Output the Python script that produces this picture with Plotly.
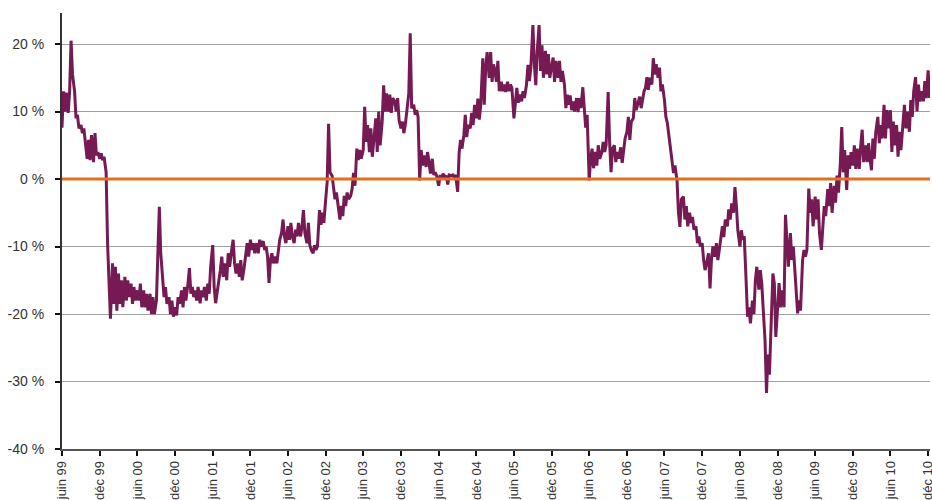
import pandas as pd
import plotly.graph_objects as go

# Weekly readings (days 1, 8, 15, 22 of each month), in %
v1999 = [7.6, 13.0, 10.0, 12.8,   9.8, 13.0, 20.5, 15.5,   13.0, 9.0, 9.5, 7.5,
         8.0, 6.8, 7.5, 5.5,   3.0, 5.8, 2.8, 6.5,   2.5, 6.8, 3.5, 4.0,   3.0, 3.8, 2.8, 3.3]
v2000 = [1.0, -9.5, -15.0, -20.7,   -12.5, -18.5, -13.0, -19.5,   -14.0, -18.5, -15.0, -19.0,
         -14.5, -18.0, -15.0, -17.5,   -15.5, -18.5, -16.0, -18.0,   -16.5, -18.0, -15.5, -19.0,
         -16.5, -19.0, -17.0, -19.5,   -17.0, -20.0, -17.5, -20.0,   -18.0, -9.0, -4.1, -11.0,
         -14.0, -17.5, -16.0, -18.5,   -17.5, -20.0, -18.0, -20.4,   -19.0, -20.2, -17.5, -18.5]
v2001 = [-16.5, -19.0, -16.0, -18.0,   -15.5, -13.2, -17.0, -16.0,   -17.5, -16.5, -18.0, -16.0,
         -18.4, -16.5, -17.5, -16.0,   -18.0, -15.5, -17.0, -13.0,   -9.8, -16.0, -18.4, -17.0,
         -15.0, -13.5, -11.5, -14.5,   -12.5, -15.0, -11.0, -13.0,   -10.5, -9.0, -12.5, -14.0,
         -12.5, -14.5, -12.0, -15.0,   -13.0, -11.0, -9.5, -11.5,   -9.0, -10.5, -9.5, -11.0]
v2002 = [-9.5, -11.0, -9.0, -10.0,   -9.2, -10.5, -10.0, -11.5,   -15.4, -12.0, -11.0, -12.5,
         -11.5, -12.5, -11.0, -9.0,   -8.0, -6.0, -8.5, -9.5,   -7.0, -9.0, -6.5, -8.5,
         -9.5, -7.5, -8.5, -6.5,   -8.5, -7.0, -4.6, -8.0,   -9.5, -6.5, -9.8, -10.5,
         -11.0, -9.8, -10.5, -10.0,   -4.6, -6.8, -5.0, -6.5,   -3.0, -0.5, 8.2, 1.0]
v2003 = [0.5, -1.0, -3.0, -2.0,   -4.5, -6.0, -4.0, -5.5,   -2.5, -4.0, -2.0, -3.0,
         -2.5, -1.5, 0.9, -1.0,   4.5, 2.8, 4.3, 3.0,   4.3, 10.7, 5.5, 8.0,
         4.0, 7.5, 3.3, 6.0,   9.0, 4.0, 10.0, 5.0,   8.5, 13.9, 10.0, 12.7,
         10.0, 12.5, 9.8, 12.0,   11.5, 10.0, 12.0, 8.7,   7.5, 8.5, 6.8, 8.0]
v2004 = [10.5, 12.7, 21.6, 10.5,   11.0, 9.5, 10.2, 9.2,   -0.2, 4.3, 2.0, 3.5,
         1.8, 4.0, 2.5, 0.8,   3.0, 0.6, 1.0, 0.5,   -1.0, 0.6, 0.0, 0.8,
         0.3, 0.5, -0.8, 0.6,   0.5, 0.6, 0.2, 0.6,   -1.9, 3.8, 5.8, 4.5,
         6.5, 9.5, 6.2, 8.0,   7.5, 9.8, 8.0, 11.0,   9.0, 11.9, 8.8, 11.0]
v2005 = [17.9, 11.0, 16.5, 18.8,   15.0, 18.8, 14.4, 17.0,   16.0, 14.4, 17.5, 13.0,
         14.4, 13.0, 14.0, 12.9,   14.4, 13.0, 14.0, 13.5,   9.0, 12.0, 13.5, 11.3,
         12.5, 11.5, 13.0, 12.0,   14.0, 16.9, 14.5, 16.5,   22.8, 17.0, 13.9, 19.0,
         22.8, 16.0, 19.8, 15.0,   19.0, 15.5, 18.5, 15.0,   17.0, 18.0, 14.4, 17.5]
v2006 = [15.0, 17.5, 14.4, 16.0,   14.0, 10.5, 12.5, 11.0,   12.4, 10.2, 11.5, 10.0,
         12.0, 9.9, 12.0, 10.5,   13.6, 10.5, 7.6, 9.5,   -0.2, 3.0, 4.5, 1.6,
         4.0, 2.0, 5.0, 3.0,   3.9, 5.5, 4.0, 5.0,   12.9, 5.5, 1.0, 4.5,
         5.0, 2.5, 4.0, 3.0,   4.7, 2.4, 4.0, 6.0,   7.0, 9.2, 5.8, 8.5]
v2007 = [9.0, 12.0, 10.2, 11.0,   12.2, 10.5, 12.0, 13.0,   13.5, 15.1, 13.2, 15.0,
         14.0, 17.9, 15.5, 17.0,   15.0, 16.5, 13.0, 14.0,   11.7, 9.2, 8.3, 6.5,
         4.3, 2.5, 0.9, 2.0,   -0.2, -5.0, -7.1, -3.0,   -2.6, -6.0, -4.0, -7.0,
         -5.0, -6.5, -5.6, -7.5,   -7.0, -9.5, -8.5, -10.0,   -9.5, -12.0, -13.5, -12.5]
v2008 = [-11.0, -16.2, -12.0, -10.0,   -11.5, -9.5, -12.0, -10.5,   -8.5, -7.0, -8.6, -6.0,
         -7.0, -4.5, -6.0, -3.6,   -5.0, -1.2, -4.0, -7.6,   -10.0, -7.6, -9.0, -8.5,
         -15.0, -20.4, -19.0, -21.4,   -18.0, -20.0, -15.0, -13.0,   -16.4, -13.5, -15.5, -20.0,
         -24.0, -31.7, -26.0, -29.0,   -20.0, -14.0, -15.5, -23.4,   -19.0, -15.4, -19.0, -16.5]
v2009 = [-19.0, -5.3, -9.0, -13.0,   -8.0, -12.0, -10.0, -13.0,   -17.5, -19.9, -18.0, -19.5,
         -12.0, -10.5, -11.5, -10.5,   -1.4, -5.0, -3.0, -7.0,   -2.6, -6.0, -3.0, -8.0,
         -10.5, -7.0, -4.0, -5.5,   -1.5, -4.0, -0.6, -5.0,   -1.0, -3.5, 0.5, -2.0,
         2.3, 7.7, 1.0, 4.3,   -1.6, 3.5, 1.5, 4.0,   2.0, 5.0, 1.5, 4.5]
v2010 = [1.5, 5.0, 7.3, 2.5,   5.0, 2.5, 5.3, 3.0,   1.3, 6.0, 3.0, 7.0,
         9.2, 5.3, 8.0, 6.0,   11.0, 6.0, 10.2, 7.5,   10.2, 4.0, 8.5, 5.0,
         8.0, 3.3, 7.0, 4.3,   8.0, 11.0, 7.5, 10.0,   7.0, 11.7, 9.2, 13.0,
         15.1, 10.0, 14.0, 11.5,   13.0, 11.5, 14.5, 12.0,   16.1, 12.0]

values = v1999 + v2000 + v2001 + v2002 + v2003 + v2004 + v2005 + v2006 + v2007 + v2008 + v2009 + v2010
month_starts = pd.date_range("1999-06-01", "2010-12-01", freq="MS")
reading_days = [0, 7, 14, 21]
dates = [m + pd.Timedelta(days=d) for m in month_starts for d in reading_days][:len(values)]

x_tick_labels = ["juin 99", "déc 99", "juin 00", "déc 00", "juin 01", "déc 01", "juin 02", "déc 02",
                 "juin 03", "déc 03", "juin 04", "déc 04", "juin 05", "déc 05", "juin 06", "déc 06",
                 "juin 07", "déc 07", "juin 08", "déc 08", "juin 09", "déc 09", "juin 10", "déc 10"]
x_tick_dates = pd.date_range("1999-06-01", periods=len(x_tick_labels), freq="6MS")
y_tick_vals = [-40, -30, -20, -10, 0, 10, 20]
y_tick_labels = ["-40 %", "-30 %", "-20 %", "-10 %", "0 %", "10 %", "20 %"]

font_family = "Liberation Sans, Arial, sans-serif"

fig = go.Figure()
fig.add_trace(go.Scatter(x=dates, y=values, mode="lines",
                         line=dict(color="#751a52", width=3), hoverinfo="skip"))
fig.add_hline(y=0, line=dict(color="#e2701f", width=3), layer="above")

fig.update_layout(
    width=932, height=500,
    margin=dict(l=62, r=2, t=13, b=51, autoexpand=False),
    plot_bgcolor="white", paper_bgcolor="white",
    showlegend=False,
    font=dict(family=font_family, color="#333333"),
    xaxis=dict(range=[pd.Timestamp("1999-06-01"), pd.Timestamp("2010-12-10")],
               tickvals=x_tick_dates, ticktext=x_tick_labels, tickangle=-90,
               tickfont=dict(size=13, family=font_family, color="#333333"),
               automargin=False, ticklabeloverflow="allow",
               showgrid=False, showline=True, linecolor="#555555", linewidth=1.5,
               ticks="outside", ticklen=5, tickwidth=2, tickcolor="#111111",
               zeroline=False),
    yaxis=dict(range=[-40, 24.6], tickvals=y_tick_vals, ticktext=y_tick_labels,
               tickfont=dict(size=14, family=font_family, color="#333333"),
               automargin=False, ticklabelstandoff=8,
               showgrid=True, gridcolor="#a0a0a0", gridwidth=1,
               showline=True, linecolor="#333333", linewidth=2,
               ticks="outside", ticklen=5, tickwidth=2, tickcolor="#111111",
               zeroline=False),
)

# remove the page's default body margin so the 932x500 figure fills the window exactly
page_css = "document.body.style.margin='0';document.body.style.overflow='hidden';"
fig.write_html("out.html", post_script=page_css, config={"displayModeBar": False})
